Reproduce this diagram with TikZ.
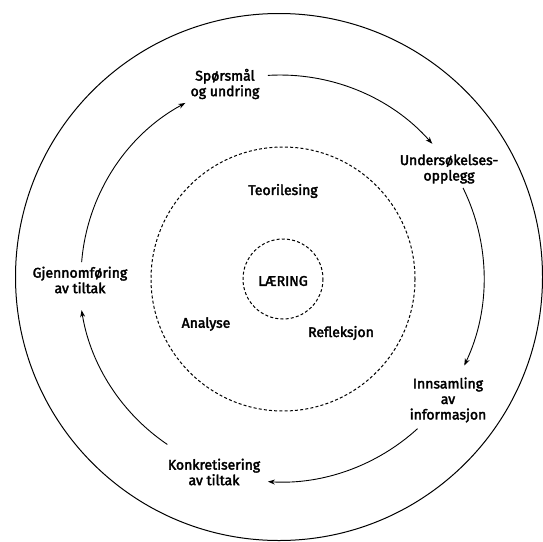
\documentclass[tikz,border=0pt]{standalone}
\usepackage{fontspec}
\setmainfont{Fira Sans}[FakeBold=2.6]
\usetikzlibrary{arrows.meta}
\tikzset{
  lbl/.style={inner sep=0pt, align=center, font=\fontsize{14}{15.5}\selectfont},
  arr/.style={line width=0.9pt, -{Stealth[length=7pt,width=5pt]}},
  ring/.style={line width=1pt},
  dring/.style={line width=1pt, dash pattern=on 3pt off 2.2pt},
}
\begin{document}
\begin{tikzpicture}[x=1pt,y=-1pt]
\useasboundingbox (0,0) rectangle (543,541);
% circles
\coordinate (oc) at (279,277);
\coordinate (mc) at (283,279);
\coordinate (ac) at (280,278);
\draw[ring] (oc) circle[radius=263.5];
\draw[dring] (mc) circle[radius=132];
\draw[dring] (mc) circle[radius=40];
% labels
\node[lbl] (sp) at (225,84) {Spørsmål\\og undring};
\node[lbl] (us) at (449,169) {Undersøkelses-\\opplegg};
\node[lbl] (in) at (448,400) {Innsamling\\av\\informasjon};
\node[lbl] (ko) at (214,472) {Konkretisering\\av tiltak};
\node[lbl] (gj) at (80,280) {Gjennomføring\\av tiltak};
\node[lbl] (te) at (283,191) {Teorilesing};
\node[lbl] (la) at (283,281) {LÆRING};
\node[lbl] (an) at (206,324) {Analyse};
\node[lbl] (re) at (341,333) {Refleksjon};
% cycle arrows (arcs round the common centre)
\draw[arr] (ac) ++(266.6:203) arc[start angle=266.6, end angle=318.6, radius=203];
\draw[arr] (ac) ++(333.8:204) arc[start angle=333.8, end angle=385.4, radius=204];
\draw[arr] (ac) ++(47.6:204) arc[start angle=47.6, end angle=93.4, radius=204];
\draw[arr] (ac) ++(124.1:201) arc[start angle=124.1, end angle=170.8, radius=201];
\draw[arr] (ac) ++(184.6:199) arc[start angle=184.6, end angle=241.6, radius=199];
\end{tikzpicture}
\end{document}
